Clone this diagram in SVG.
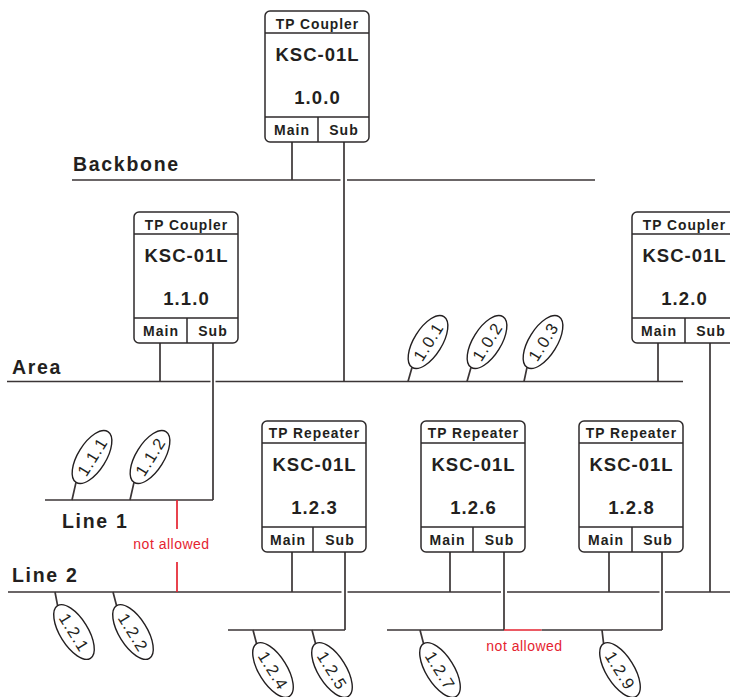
<svg xmlns="http://www.w3.org/2000/svg" width="730" height="697" viewBox="0 0 730 697">
<style>
  .bg{fill:#ffffff}
  .box{fill:#ffffff;stroke:#2e2a2b;stroke-width:1.5}
  .sep{stroke:#2e2a2b;stroke-width:1.5;fill:none}
  .ln{stroke:#3b3536;stroke-width:1.7;fill:none;stroke-linecap:butt}
  .red{stroke:#e52330;stroke-width:1.7;fill:none}
  .t{font-family:"Liberation Sans",Arial,sans-serif;font-weight:bold;fill:#231f20;text-anchor:middle}
  .title{font-size:13.8px;letter-spacing:1px}
  .model{font-size:18.5px;letter-spacing:1px}
  .addr{font-size:18.5px;letter-spacing:1.1px}
  .port{font-size:14px;letter-spacing:1px}
  .bus{font-family:"Liberation Sans",Arial,sans-serif;font-weight:bold;font-size:19.5px;letter-spacing:1.7px;fill:#231f20}
  .na{font-family:"Liberation Sans",Arial,sans-serif;font-size:14px;letter-spacing:0.5px;fill:#e52330;text-anchor:middle}
  .dev{fill:#ffffff;stroke:#231f20;stroke-width:1.4}
  .dt{font-family:"Liberation Sans",Arial,sans-serif;font-size:16.5px;letter-spacing:1px;fill:#231f20;text-anchor:middle}
</style>
<rect class="bg" x="0" y="0" width="730" height="697"/>

<!-- bus labels -->
<g id="labels">
  <text class="bus" x="73" y="170.5">Backbone</text>
  <text class="bus" x="12" y="374">Area</text>
  <text class="bus" x="62" y="527.5">Line 1</text>
  <text class="bus" x="12" y="581.5">Line 2</text>
  <text class="na" x="171.5" y="549">not allowed</text>
  <text class="na" x="524.5" y="651">not allowed</text>
</g>

<!-- connectors -->
<g id="connectors">
  <!-- Backbone -->
  <path class="ln" d="M72 180H340.5M347 180H595"/>
  <path class="ln" d="M292 142V180M344 142V381.5"/>
  <!-- Area -->
  <path class="ln" d="M7 381.5H210.5M215.5 381.5H683"/>
  <path class="ln" d="M160 343V381.5M213 343V500M658 343V381.5M710 343V592"/>
  <!-- Line 1 -->
  <path class="ln" d="M45 500H213"/>
  <!-- Line 2 -->
  <path class="ln" d="M8 592H341.5M347.5 592H501M507 592H659.5M665 592H730"/>
  <path class="ln" d="M292 552V592M450 552V592M609 552V592"/>
  <path class="ln" d="M345 552V630M504 552V630M662 552V630"/>
  <!-- lower segments -->
  <path class="ln" d="M228 630H345M387 630H504M541.5 630H662"/>
  <path class="red" d="M504 630H541.5"/>
  <path class="red" d="M177 500V529M177 562V592"/>
  <!-- device stems -->
  <path class="ln" d="M412 367.4L408 381.5M471 367.4L467 381.5M527 367.4L524 381.5"/>
  <path class="ln" d="M76 482.4L72 500M134 482.4L130 500"/>
  <path class="ln" d="M55 592L57.6 605.7M113 592L116.6 605.7"/>
  <path class="ln" d="M253 630L256.6 643.7M312 630L315.6 643.7M420 630L423.6 643.7M602 630L603.6 643.7"/>
</g>

<!-- couplers / repeaters -->
<g id="coupler-1-0-0">
  <rect class="box" x="265" y="11" width="104" height="131" rx="5"/>
  <path class="sep" d="M265 33H369M265 117H369M318 117V142"/>
  <text class="t title" x="317.5" y="28.5">TP Coupler</text>
  <text class="t model" x="317.5" y="61">KSC-01L</text>
  <text class="t addr" x="317.5" y="104">1.0.0</text>
  <text class="t port" x="292" y="134.5">Main</text>
  <text class="t port" x="344" y="134.5">Sub</text>
</g>
<g id="coupler-1-1-0">
  <rect class="box" x="134" y="212" width="104" height="131" rx="5"/>
  <path class="sep" d="M134 234H238M134 318H238M187 318V343"/>
  <text class="t title" x="186.5" y="229.5">TP Coupler</text>
  <text class="t model" x="186.5" y="262">KSC-01L</text>
  <text class="t addr" x="186.5" y="305">1.1.0</text>
  <text class="t port" x="161" y="335.5">Main</text>
  <text class="t port" x="213" y="335.5">Sub</text>
</g>
<g id="coupler-1-2-0">
  <rect class="box" x="632" y="212" width="104" height="131" rx="5"/>
  <path class="sep" d="M632 234H736M632 318H736M685 318V343"/>
  <text class="t title" x="684.5" y="229.5">TP Coupler</text>
  <text class="t model" x="684.5" y="262">KSC-01L</text>
  <text class="t addr" x="684.5" y="305">1.2.0</text>
  <text class="t port" x="659" y="335.5">Main</text>
  <text class="t port" x="711" y="335.5">Sub</text>
</g>
<g id="repeater-1-2-3">
  <rect class="box" x="262" y="421" width="104" height="131" rx="5"/>
  <path class="sep" d="M262 443H366M262 527H366M313 527V552"/>
  <text class="t title" x="314.5" y="438">TP Repeater</text>
  <text class="t model" x="314.5" y="471">KSC-01L</text>
  <text class="t addr" x="314.5" y="514">1.2.3</text>
  <text class="t port" x="288" y="544.5">Main</text>
  <text class="t port" x="340" y="544.5">Sub</text>
</g>
<g id="repeater-1-2-6">
  <rect class="box" x="421" y="421" width="104" height="131" rx="5"/>
  <path class="sep" d="M421 443H525M421 527H525M473 527V552"/>
  <text class="t title" x="473.5" y="438">TP Repeater</text>
  <text class="t model" x="473.5" y="471">KSC-01L</text>
  <text class="t addr" x="473.5" y="514">1.2.6</text>
  <text class="t port" x="447.5" y="544.5">Main</text>
  <text class="t port" x="499.5" y="544.5">Sub</text>
</g>
<g id="repeater-1-2-8">
  <rect class="box" x="579" y="421" width="104" height="131" rx="5"/>
  <path class="sep" d="M579 443H683M579 527H683M632 527V552"/>
  <text class="t title" x="631.5" y="438">TP Repeater</text>
  <text class="t model" x="631.5" y="471">KSC-01L</text>
  <text class="t addr" x="631.5" y="514">1.2.8</text>
  <text class="t port" x="606" y="544.5">Main</text>
  <text class="t port" x="658" y="544.5">Sub</text>
</g>

<!-- devices -->
<g id="dev-1-0-1" transform="translate(428 342) rotate(-58)"><ellipse class="dev" rx="30" ry="14"/><text class="dt" x="0.5" y="6">1.0.1</text></g>
<g id="dev-1-0-2" transform="translate(487 342) rotate(-58)"><ellipse class="dev" rx="30" ry="14"/><text class="dt" x="0.5" y="6">1.0.2</text></g>
<g id="dev-1-0-3" transform="translate(543 342) rotate(-58)"><ellipse class="dev" rx="30" ry="14"/><text class="dt" x="0.5" y="6">1.0.3</text></g>
<g id="dev-1-1-1" transform="translate(92 457) rotate(-58)"><ellipse class="dev" rx="30" ry="14"/><text class="dt" x="0.5" y="6">1.1.1</text></g>
<g id="dev-1-1-2" transform="translate(150 457) rotate(-58)"><ellipse class="dev" rx="30" ry="14"/><text class="dt" x="0.5" y="6">1.1.2</text></g>
<g id="dev-1-2-1" transform="translate(74 632) rotate(58)"><ellipse class="dev" rx="31" ry="14"/><text class="dt" x="0.5" y="6">1.2.1</text></g>
<g id="dev-1-2-2" transform="translate(133 632) rotate(58)"><ellipse class="dev" rx="31" ry="14"/><text class="dt" x="0.5" y="6">1.2.2</text></g>
<g id="dev-1-2-4" transform="translate(273 670) rotate(58)"><ellipse class="dev" rx="31" ry="14"/><text class="dt" x="0.5" y="6">1.2.4</text></g>
<g id="dev-1-2-5" transform="translate(332 670) rotate(58)"><ellipse class="dev" rx="31" ry="14"/><text class="dt" x="0.5" y="6">1.2.5</text></g>
<g id="dev-1-2-7" transform="translate(440 670) rotate(58)"><ellipse class="dev" rx="31" ry="14"/><text class="dt" x="0.5" y="6">1.2.7</text></g>
<g id="dev-1-2-9" transform="translate(620 670) rotate(58)"><ellipse class="dev" rx="31" ry="14"/><text class="dt" x="0.5" y="6">1.2.9</text></g>
</svg>
